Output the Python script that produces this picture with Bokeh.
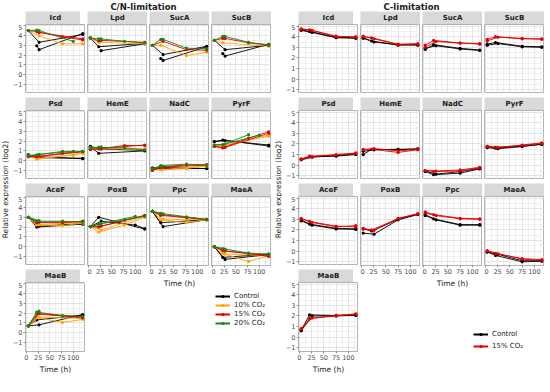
import math
from bokeh.plotting import figure
from bokeh.layouts import row, column
from bokeh.models import Range1d, FixedTicker, Grid, Legend, LegendItem, LinearAxis, Spacer
from bokeh.core.properties import value
from bokeh.embed import file_html
from bokeh.resources import INLINE

# ------------------------------------------------------------------ data
GENES = ["Icd", "Lpd", "SucA", "SucB", "Psd", "HemE", "NadC", "PyrF",
         "AceF", "PoxB", "Ppc", "MaeA", "MaeB"]

CN_CONDITIONS = ["Control", "10% CO₂", "15% CO₂", "20% CO₂"]
C_CONDITIONS = ["Control", "15% CO₂"]

# sampling times (h)
CN_T = [4, 22, 27, 77, 100, 120]
C_T_A = [4, 21, 75, 115]
C_T_B = [4, 26, 75, 115]

X_TICKS = [0, 25, 50, 75, 100]
X_MINOR = [12.5, 37.5, 62.5, 87.5, 112.5]
Y_TICKS = [-1, 0, 1, 2, 3, 4, 5]
Y_MINOR = [-1.5, -0.5, 0.5, 1.5, 2.5, 3.5, 4.5]

N = None
# C/N-limitation: rows = Control A/B, 10% A/B, 15% A/B, 20% A/B (values on CN_T)
CN_ICD = [[4.5, N, 3.3, N, N, 4.1], [N, 2.95, 2.55, N, N, 4.2],
          [4.5, N, 3.95, 3.15, N, 3.15], [N, N, N, N, N, N],
          [4.5, 4.4, N, 3.85, N, 3.55], [N, N, 4.3, N, N, 3.65],
          [4.5, 4.55, 4.5, N, 3.4, N], [N, N, N, N, N, N]]
CN_LPD = [[3.75, 2.85, N, N, N, 3.2], [N, N, 2.45, N, N, 3.15],
          [3.75, 3.3, N, N, N, 3.15], [N, N, N, N, N, N],
          [3.75, 3.45, 3.5, N, N, 3.3], [N, N, N, N, N, N],
          [3.75, 3.65, 3.65, 3.4, N, 3.25], [N, N, N, N, N, N]]
CN_SUCA = [[3.0, N, 2.05, N, N, 2.9], [N, 1.65, 1.45, N, N, 2.85],
           [3.0, 3.0, N, 1.95, N, 2.3], [N, N, N, N, N, N],
           [3.0, N, 3.4, 2.55, N, 2.5], [N, N, N, N, N, N],
           [3.0, 3.6, 3.6, 2.7, N, 2.65], [N, N, N, N, N, N]]
CN_SUCB = [[3.5, N, 2.55, N, N, 3.0], [N, 2.15, 1.9, N, N, 3.1],
           [3.5, 3.25, N, N, N, 2.9], [N, N, N, N, N, N],
           [3.5, 3.7, 3.7, 3.25, N, 3.0], [N, N, N, N, N, N],
           [3.5, 3.9, 3.9, 3.3, N, 3.05], [N, N, N, N, N, N]]
CN_PSD = [[0.6, 0.3, N, N, N, 0.25], [0.6, N, 0.4, N, N, 0.2],
          [0.5, 0.15, N, N, N, 0.75], [0.5, N, 0.25, N, 0.55, 0.8],
          [0.4, 0.4, N, 0.75, N, 0.95], [0.4, N, 0.45, N, N, 0.9],
          [0.5, 0.6, N, 0.95, N, 0.95], [0.5, N, 0.65, N, 0.95, N]]
CN_HEME = [[1.45, 0.75, N, N, N, 1.0], [1.45, N, 1.2, N, N, 1.05],
           [1.3, 1.3, N, 1.3, N, 1.2], [1.3, N, 1.25, N, N, 1.15],
           [1.15, 1.2, N, 1.55, N, 1.55], [1.15, N, 1.25, N, N, 1.6],
           [1.3, 1.35, N, 1.3, N, 1.1], [1.3, N, 1.4, N, N, N]]
CN_NADC = [[-0.75, -0.8, N, N, N, -0.8], [-0.75, N, -0.7, N, N, -0.8],
           [-0.85, -0.95, N, -0.8, N, -0.5], [-0.85, N, -0.9, N, N, -0.55],
           [-1.0, -0.6, N, -0.45, N, -0.4], [-1.0, N, -0.65, N, N, -0.45],
           [-0.85, -0.5, N, -0.35, N, -0.45], [-0.85, N, -0.55, N, N, N]]
CN_PYRF = [[1.95, 2.1, N, N, N, 1.5], [1.95, N, 2.05, N, N, 1.6],
           [1.6, 1.5, N, 2.2, N, 2.6], [1.6, N, 1.55, N, N, 2.5],
           [1.45, 1.3, N, 2.3, N, 2.95], [1.45, N, 1.35, N, N, 2.8],
           [1.6, 1.65, N, 2.65, N, N], [1.6, N, 1.7, N, 2.6, N]]
CN_ACEF = [[3.0, 2.0, N, N, N, 2.3], [3.0, N, 2.1, N, N, 2.35],
           [3.0, 2.2, N, 2.15, N, 2.4], [3.0, N, 2.25, N, N, 2.45],
           [3.0, 2.45, N, 2.45, N, 2.6], [3.0, N, 2.5, N, N, 2.55],
           [3.0, 2.6, N, 2.6, N, 2.5], [3.0, N, 2.65, N, N, N]]
CN_POXB = [[2.05, 3.0, N, N, N, 1.8], [2.05, N, 2.6, N, 2.2, 1.85],
           [2.05, 1.5, N, 2.2, N, 3.0], [2.05, N, 1.7, N, N, 3.1],
           [2.05, 2.0, N, 2.7, N, 3.2], [2.05, N, 2.1, N, N, 3.15],
           [2.05, 2.3, N, 2.75, N, 3.1], [2.05, N, 2.35, N, 3.1, N]]
CN_PPC = [[3.6, 2.45, N, N, N, 2.75], [3.6, N, 2.05, N, N, 2.75],
          [3.6, 2.75, N, 2.45, N, 2.75], [3.6, N, 2.8, N, N, 2.75],
          [3.6, 3.2, N, 2.95, N, 2.75], [3.6, N, 3.25, N, N, 2.8],
          [3.6, 3.4, N, 3.05, N, 2.75], [3.6, N, 3.35, N, N, N]]
CN_MAEA = [[0.0, -1.1, N, N, N, -0.75], [0.0, N, -1.3, N, N, -0.8],
           [0.0, -0.7, N, -1.5, N, -0.95], [0.0, N, -0.75, N, N, -0.9],
           [0.0, -0.4, N, -0.7, N, -1.0], [0.0, N, -0.45, N, N, -0.9],
           [0.0, -0.2, N, -0.65, N, -0.75], [0.0, N, -0.25, N, N, N]]
CN_MAEB = [[0.7, 1.3, N, N, N, 1.8], [0.7, N, 0.8, N, N, 1.85],
           [0.7, 1.55, N, 1.05, N, 1.35], [0.7, N, 1.6, N, N, 1.45],
           [0.7, 1.9, N, 1.7, N, 1.5], [0.7, N, 1.95, N, N, 1.6],
           [0.7, 2.1, N, 1.75, N, 1.65], [0.7, N, 2.2, N, N, N]]

# C-limitation: rows = Control A/B, 15% A/B (A on C_T_A, B on C_T_B)
C_ICD = [[4.65, 4.5, 3.95, 3.9], [4.6, 4.4, 3.9, 3.85],
         [4.75, 4.65, 4.0, 4.0], [4.7, 4.6, 4.05, 3.95]]
C_LPD = [[3.9, 3.6, 3.2, 3.25], [3.85, 3.5, 3.25, 3.2],
         [4.0, 3.9, 3.3, 3.3], [4.05, 3.8, 3.25, 3.35]]
C_SUCA = [[2.8, 3.25, 2.9, 2.75], [2.9, 3.15, 2.85, 2.7],
          [3.2, 3.65, 3.4, 3.35], [3.0, 3.55, 3.4, 3.3]]
C_SUCB = [[3.3, 3.45, 3.1, 3.05], [3.2, 3.35, 3.05, 3.0],
          [3.75, 4.0, 3.8, 3.8], [3.6, 3.95, 3.85, 3.75]]
C_PSD = [[0.55, 0.8, 0.85, 1.0], [0.5, 0.75, 0.9, 1.05],
         [0.6, 0.85, 0.95, 1.1], [0.55, 0.8, 1.0, 1.15]]
C_HEME = [[1.0, 1.5, 1.45, 1.55], [1.3, 1.45, 1.5, 1.5],
          [1.5, 1.5, 1.2, 1.45], [1.45, 1.55, 1.35, 1.5]]
C_NADC = [[-0.6, -0.9, -0.75, -0.35], [-0.55, -0.85, -0.6, -0.3],
          [-0.5, -0.6, -0.55, -0.25], [-0.5, -0.55, -0.45, -0.2]]
C_PYRF = [[1.75, 1.6, 1.8, 1.95], [1.65, 1.55, 1.75, 2.0],
          [1.8, 1.7, 1.85, 2.05], [1.75, 1.65, 1.9, 2.1]]
C_ACEF = [[2.95, 2.55, 2.15, 2.1], [2.85, 2.45, 2.1, 2.05],
          [3.1, 2.8, 2.35, 2.3], [3.05, 2.7, 2.3, 2.4]]
C_POXB = [[2.1, 1.9, 3.0, 3.5], [1.7, 1.6, 2.95, 3.45],
          [2.15, 2.0, 3.05, 3.55], [2.1, 1.95, 3.1, 3.5]]
C_PPC = [[3.45, 3.05, 2.5, 2.5], [3.35, 2.95, 2.45, 2.45],
         [3.7, 3.45, 3.1, 3.05], [3.6, 3.35, 3.05, 3.0]]
C_MAEA = [[-0.05, -0.4, -1.0, -0.95], [-0.1, -0.3, -0.9, -0.9],
          [0.05, -0.2, -0.7, -0.8], [0.0, -0.25, -0.75, -0.85]]
C_MAEB = [[0.65, 2.1, 2.05, 2.1], [0.6, 2.0, 2.0, 2.05],
          [0.8, 1.75, 2.0, 2.15], [0.75, 1.8, 2.05, 2.2]]

CN_DATA = dict(zip(GENES, [CN_ICD, CN_LPD, CN_SUCA, CN_SUCB, CN_PSD, CN_HEME, CN_NADC,
                           CN_PYRF, CN_ACEF, CN_POXB, CN_PPC, CN_MAEA, CN_MAEB]))
C_DATA = dict(zip(GENES, [C_ICD, C_LPD, C_SUCA, C_SUCB, C_PSD, C_HEME, C_NADC,
                          C_PYRF, C_ACEF, C_POXB, C_PPC, C_MAEA, C_MAEB]))

COLORS = {"Control": "#000000", "10% CO₂": "#FFA500",
          "15% CO₂": "#E60000", "20% CO₂": "#138A13"}

# ------------------------------------------------------------------ style
FONT = "DejaVu Sans"
FW, FH, SH = 60, 69, 13
COL_GAP, ROW_GAP = 2, 4
AX_L, AX_B = 11, 21
YT_W = 9
TITLE_H = 11


def base_fig(fw, fh, **kw):
    p = figure(frame_width=fw, frame_height=fh, x_axis_location=None,
               y_axis_location=None, toolbar_location=None,
               output_backend="svg", min_border=0, **kw)
    p.grid.visible = False
    p.outline_line_color = None
    p.border_fill_color = "white"
    p.background_fill_color = "white"
    return p


def style_axis(ax):
    ax.major_label_text_font = FONT
    ax.major_label_text_font_size = "6.5px"
    ax.major_label_text_color = "#4D4D4D"
    ax.axis_line_color = None
    ax.major_tick_line_color = "#4D4D4D"
    ax.major_tick_line_width = 0.6
    ax.major_tick_out = 2
    ax.major_tick_in = 0
    ax.minor_tick_line_color = None
    ax.major_label_standoff = 1
    ax.axis_label_text_font = FONT
    ax.axis_label_text_font_size = "7.5px"
    ax.axis_label_text_font_style = "normal"
    ax.axis_label_text_color = "#222222"
    ax.axis_label_standoff = 2


def strip(name, left_pad):
    s = base_fig(FW, SH, x_range=Range1d(0, 1), y_range=Range1d(0, 1),
                 min_border_left=left_pad)
    s.background_fill_color = "#D9D9D9"
    s.text(x=[0.5], y=[0.5], text=[name], text_align="center",
           text_baseline="middle", text_font=value(FONT),
           text_font_style="bold", text_font_size="7px", text_color="#1A1A1A")
    return s


def panel(rows, conds, row_times, xr, yr, show_y, show_x, xlabel):
    p = base_fig(FW, FH, x_range=Range1d(*xr), y_range=Range1d(*yr),
                 min_border_left=AX_L if show_y else 0,
                 min_border_bottom=AX_B if show_x else 0)
    p.outline_line_color = "#A8A8A8"
    p.outline_line_width = 0.9
    for dim, maj, mn in ((0, X_TICKS, X_MINOR), (1, Y_TICKS, Y_MINOR)):
        p.add_layout(Grid(dimension=dim,
                          ticker=FixedTicker(ticks=maj, minor_ticks=mn),
                          grid_line_color="#DADADA", grid_line_width=0.7,
                          minor_grid_line_color="#E6E6E6",
                          minor_grid_line_width=0.6))
    if show_y:
        ax = LinearAxis(ticker=FixedTicker(ticks=Y_TICKS))
        style_axis(ax)
        p.add_layout(ax, "left")
    if show_x:
        ax = LinearAxis(ticker=FixedTicker(ticks=X_TICKS), axis_label=xlabel)
        style_axis(ax)
        p.add_layout(ax, "below")
    for i, vals in enumerate(rows):
        cond = conds[i // 2]
        ts = row_times[i % 2]
        xs = [t for t, v in zip(ts, vals) if v is not None]
        ys = [v for v in vals if v is not None]
        if not xs:
            continue
        p.line(xs, ys, line_color=COLORS[cond], line_width=1.0, line_alpha=0.9)
        p.scatter(xs, ys, size=3.2, fill_color=COLORS[cond], line_color=None)
    return p


def ytitle(height, center_from_top):
    f = base_fig(YT_W, height, x_range=Range1d(0, YT_W), y_range=Range1d(0, height))
    f.text(x=[YT_W / 2], y=[height - center_from_top],
           text=["Relative expression (log2)"], angle=math.pi / 2,
           text_align="center", text_baseline="middle", text_font=value(FONT),
           text_font_size="7.5px", text_color="#222222")
    return f


def legend_fig(conds, w, h, loc, spacing):
    f = base_fig(w, h, x_range=Range1d(0, 1), y_range=Range1d(0, 1))
    items = []
    for c in conds:
        lr = f.line(x=[0, 1], y=[0, 1], line_color=COLORS[c], line_width=2, visible=False)
        sr = f.scatter(x=[0.5], y=[0.5], size=5, fill_color=COLORS[c],
                       line_color=None, visible=False)
        items.append(LegendItem(label=c, renderers=[lr, sr]))
    lg = Legend(items=items, location=loc, glyph_width=15, glyph_height=8,
                label_height=8, label_standoff=4, spacing=spacing, padding=0,
                margin=0, border_line_color=None, background_fill_alpha=0,
                label_text_font=FONT, label_text_font_size="7px",
                label_text_color="#222222")
    f.add_layout(lg, "center")
    return f


def block(data, conds, row_times, xr, yr, leg_loc, leg_spacing):
    col1 = []
    for r in range(4):
        g = GENES[r * 4]
        col1.append(strip(g, AX_L))
        col1.append(panel(data[g], conds, row_times, xr, yr, True, r == 3, "Time (h)"))
        if r < 3:
            col1.append(Spacer(width=1, height=ROW_GAP))
    cols = []
    for c in (1, 2, 3):
        ch = []
        for r in range(3):
            g = GENES[r * 4 + c]
            ch.append(strip(g, 0))
            ch.append(panel(data[g], conds, row_times, xr, yr, False, r == 2,
                            "Time (h)" if c == 2 else None))
            if r < 2:
                ch.append(Spacer(width=1, height=ROW_GAP))
        cols.append(column(*ch))
    top = row(cols[0], Spacer(width=COL_GAP, height=1), cols[1],
              Spacer(width=COL_GAP, height=1), cols[2])
    block_h = 4 * SH + 4 * FH + 3 * ROW_GAP + AX_B
    top_h = 3 * SH + 3 * FH + 2 * ROW_GAP + AX_B
    leg = legend_fig(conds, 3 * FW + 2 * COL_GAP, block_h - top_h, leg_loc, leg_spacing)
    right = column(top, leg)
    yt = ytitle(block_h, 178)
    return row(yt, column(*col1), Spacer(width=COL_GAP, height=1), right)


def title_fig(text, w, xc):
    f = base_fig(w, TITLE_H, x_range=Range1d(0, w), y_range=Range1d(0, 1))
    f.text(x=[xc], y=[0.5], text=[text], text_align="center", text_baseline="middle",
           text_font=value(FONT), text_font_style="bold", text_font_size="8.5px",
           text_color="#1A1A1A")
    return f


BLOCK_W = YT_W + AX_L + 4 * FW + 3 * COL_GAP

left = block(CN_DATA, CN_CONDITIONS, (CN_T, CN_T), (-2, 126), (-1.92, 5.12), (128, 49), 1)
right = block(C_DATA, C_CONDITIONS, (C_T_A, C_T_B), (-1.5, 120.5), (-1.35, 5.15), (113, 26), 4)

titles = row(title_fig("C/N-limitation", BLOCK_W, 143), Spacer(width=COL_GAP, height=1),
             title_fig("C-limitation", BLOCK_W, 143))
page = column(titles, row(left, Spacer(width=COL_GAP, height=1), right))

open("out.html", "w").write(file_html(page, INLINE))
